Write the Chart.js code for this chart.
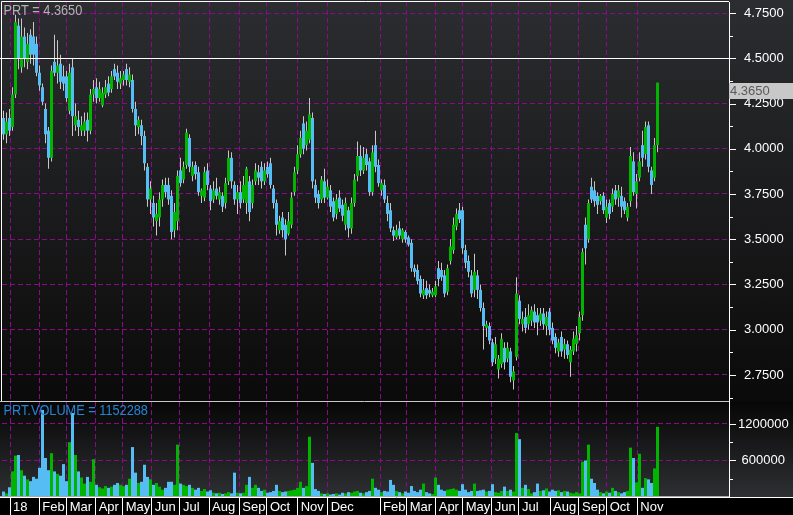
<!DOCTYPE html>
<html><head><meta charset="utf-8">
<script src="https://cdn.jsdelivr.net/npm/chart.js@4/dist/chart.umd.min.js"></script>
<style>
html,body{margin:0;padding:0;background:#000;}
#wrap{position:relative;width:793px;height:515px;overflow:hidden;background:#000;}
#pc{position:absolute;left:0;top:0;background:linear-gradient(to bottom,#2c2d30 0%,#0a0a0a 100%);}
#vc{position:absolute;left:0;top:402px;background:linear-gradient(to bottom,#070707 0px,#2e2f32 95px,#000 95px,#000 113px);}
</style></head><body>
<div id="wrap"><canvas id="pc" width="793" height="402"></canvas><canvas id="vc" width="793" height="113"></canvas></div>
<script>
const symbol = 'PRT';
const opens = [
4.17,4.08,4.17,4.12,4.30,4.68,4.45,4.62,4.48,4.63,
4.62,4.58,4.42,4.34,4.22,4.10,3.95,4.48,4.42,4.47,
4.40,4.40,4.21,4.45,4.13,4.16,4.10,4.10,4.16,4.10,
4.30,4.34,4.28,4.24,4.30,4.36,4.33,4.44,4.42,4.36,
4.38,4.44,4.37,4.38,4.22,4.12,4.13,4.07,3.90,3.72,
3.70,3.60,3.62,3.72,3.80,3.80,3.74,3.55,3.60,3.88,
3.83,3.91,4.06,3.85,3.91,3.87,3.74,3.73,3.88,3.78,
3.72,3.78,3.72,3.74,3.70,3.82,3.95,3.80,3.72,3.76,
3.72,3.70,3.82,3.70,3.82,3.87,3.90,3.82,3.90,3.92,
3.78,3.70,3.55,3.62,3.58,3.53,3.58,3.76,3.88,3.97,
4.14,4.02,4.05,4.17,3.80,3.75,3.72,3.82,3.73,3.77,
3.71,3.64,3.73,3.69,3.58,3.66,3.56,3.70,3.85,3.96,
3.88,3.97,3.93,3.76,4.02,3.91,3.77,3.80,3.70,3.66,
3.55,3.51,3.56,3.50,3.54,3.51,3.48,3.34,3.33,3.28,
3.19,3.23,3.22,3.19,3.19,3.34,3.33,3.30,3.21,3.38,
3.44,3.57,3.66,3.66,3.44,3.38,3.30,3.22,3.30,3.22,
3.12,3.01,3.02,2.93,2.84,2.78,2.81,2.90,2.84,2.88,
2.72,2.85,3.16,3.03,3.07,3.03,3.05,3.10,3.08,3.05,
3.09,3.02,3.10,3.01,2.96,2.88,2.96,2.89,2.92,2.82,
2.88,2.92,2.98,3.08,3.58,3.50,3.79,3.77,3.74,3.71,
3.74,3.62,3.70,3.68,3.77,3.73,3.74,3.71,3.62,3.71,
3.93,3.75,3.84,4.02,3.97,4.13,3.88,3.84,4.02];
const highs = [
4.21,4.20,4.22,4.34,4.74,4.72,4.72,4.67,4.64,4.66,
4.70,4.62,4.46,4.36,4.25,4.12,4.46,4.63,4.60,4.52,
4.46,4.43,4.47,4.50,4.25,4.21,4.18,4.20,4.20,4.33,
4.38,4.39,4.37,4.34,4.38,4.40,4.43,4.47,4.46,4.43,
4.43,4.47,4.45,4.41,4.26,4.18,4.16,4.10,3.92,3.82,
3.74,3.70,3.76,3.83,3.84,3.84,3.77,3.70,3.88,3.95,
3.93,4.11,4.08,3.93,3.93,3.90,3.78,3.90,3.92,3.80,
3.82,3.84,3.79,3.76,3.84,3.99,3.98,3.82,3.80,3.82,
3.85,3.90,3.85,3.83,3.92,3.91,3.93,3.92,3.93,3.95,
3.80,3.72,3.63,3.65,3.61,3.65,3.76,3.90,4.02,4.10,
4.18,4.15,4.28,4.20,3.83,3.77,3.85,3.89,3.83,3.80,
3.73,3.75,3.77,3.72,3.73,3.68,3.73,3.86,4.04,4.02,
4.01,4.00,3.95,4.02,4.10,3.94,3.83,3.83,3.74,3.70,
3.57,3.58,3.60,3.56,3.55,3.52,3.50,3.36,3.36,3.30,
3.28,3.27,3.25,3.23,3.27,3.38,3.37,3.33,3.36,3.50,
3.62,3.67,3.70,3.68,3.47,3.41,3.33,3.42,3.33,3.25,
3.15,3.05,3.04,2.95,2.96,2.86,2.98,2.93,2.93,2.90,
2.80,3.29,3.19,3.10,3.12,3.14,3.13,3.14,3.12,3.12,
3.12,3.10,3.12,3.04,2.98,2.95,2.99,2.95,2.94,2.91,
2.99,3.02,3.10,3.45,3.62,3.72,3.84,3.82,3.76,3.75,
3.76,3.72,3.72,3.78,3.80,3.80,3.79,3.73,3.70,4.01,
3.98,3.86,3.98,4.10,4.15,4.15,3.90,4.06,4.365];
const lows = [
4.05,4.03,4.07,4.10,4.28,4.44,4.42,4.45,4.44,4.47,
4.46,4.40,4.32,4.24,4.03,3.89,3.93,4.40,4.36,4.33,
4.32,4.26,4.19,4.07,4.10,4.07,4.07,4.07,4.04,4.08,
4.26,4.25,4.26,4.23,4.28,4.29,4.31,4.38,4.33,4.33,
4.35,4.35,4.34,4.20,4.07,4.08,4.02,3.88,3.68,3.64,
3.57,3.52,3.57,3.68,3.73,3.69,3.50,3.51,3.55,3.79,
3.81,3.89,3.87,3.82,3.83,3.74,3.70,3.71,3.77,3.66,
3.70,3.72,3.69,3.65,3.67,3.80,3.78,3.69,3.64,3.67,
3.70,3.64,3.60,3.67,3.80,3.80,3.78,3.80,3.84,3.78,
3.67,3.52,3.53,3.51,3.41,3.52,3.56,3.74,3.86,3.95,
3.97,3.99,4.03,3.78,3.70,3.67,3.70,3.70,3.72,3.65,
3.60,3.61,3.65,3.60,3.55,3.51,3.53,3.68,3.82,3.85,
3.86,3.88,3.74,3.74,3.87,3.79,3.74,3.70,3.60,3.54,
3.49,3.50,3.50,3.48,3.48,3.46,3.32,3.29,3.25,3.18,
3.17,3.17,3.18,3.18,3.18,3.24,3.27,3.18,3.19,3.36,
3.42,3.55,3.59,3.42,3.34,3.29,3.18,3.18,3.17,3.10,
2.89,2.96,2.92,2.80,2.81,2.73,2.79,2.78,2.82,2.71,
2.67,2.83,3.03,2.99,2.98,3.00,3.02,3.01,2.97,3.02,
3.00,2.97,2.97,2.92,2.87,2.85,2.85,2.84,2.84,2.74,
2.86,2.88,2.94,3.05,3.36,3.48,3.70,3.68,3.64,3.69,
3.64,3.59,3.61,3.65,3.69,3.68,3.62,3.64,3.60,3.68,
3.74,3.67,3.82,3.90,3.94,3.87,3.75,3.82,3.98];
const closes = [
4.08,4.15,4.10,4.30,4.70,4.50,4.62,4.50,4.58,4.52,
4.52,4.42,4.35,4.26,4.08,3.95,4.43,4.42,4.46,4.37,
4.36,4.28,4.42,4.18,4.18,4.12,4.13,4.15,4.10,4.30,
4.33,4.28,4.33,4.31,4.34,4.31,4.40,4.40,4.37,4.39,
4.41,4.38,4.41,4.22,4.13,4.16,4.07,3.92,3.72,3.78,
3.62,3.64,3.72,3.80,3.76,3.72,3.54,3.65,3.85,3.81,
3.90,4.09,3.90,3.90,3.86,3.76,3.77,3.87,3.80,3.71,
3.77,3.74,3.76,3.68,3.81,3.95,3.82,3.72,3.76,3.70,
3.80,3.89,3.65,3.80,3.88,3.84,3.82,3.88,3.86,3.80,
3.70,3.58,3.60,3.55,3.50,3.60,3.73,3.87,3.97,4.06,
4.00,4.10,4.19,3.82,3.73,3.70,3.83,3.73,3.79,3.68,
3.62,3.72,3.67,3.63,3.70,3.56,3.70,3.83,3.96,3.88,
3.95,3.91,3.76,3.98,3.90,3.81,3.81,3.72,3.64,3.56,
3.52,3.55,3.52,3.55,3.50,3.47,3.34,3.32,3.27,3.20,
3.22,3.19,3.20,3.21,3.24,3.28,3.29,3.20,3.34,3.46,
3.58,3.64,3.61,3.45,3.37,3.32,3.20,3.32,3.22,3.12,
3.02,3.03,2.94,2.82,2.92,2.84,2.95,2.82,2.90,2.74,
2.77,3.20,3.06,3.06,3.01,3.08,3.11,3.04,3.04,3.09,
3.03,3.07,3.00,2.94,2.90,2.93,2.88,2.92,2.86,2.89,
2.95,2.97,3.07,3.43,3.45,3.70,3.72,3.71,3.69,3.74,
3.66,3.68,3.64,3.75,3.72,3.77,3.68,3.66,3.68,3.96,
3.76,3.82,3.93,3.95,4.12,3.90,3.80,4.02,4.365];
const volumes = [
90000,60000,160000,420000,680000,690000,440000,350000,290000,260000,
330000,300000,480000,1430000,640000,440000,720000,420000,380000,350000,
540000,260000,900000,1380000,690000,420000,320000,220000,330000,250000,
620000,200000,160000,140000,180000,150000,170000,200000,230000,200000,
180000,200000,300000,820000,400000,230000,250000,530000,330000,290000,
200000,230000,170000,120000,150000,250000,250000,200000,860000,220000,
200000,180000,200000,150000,120000,150000,100000,130000,90000,110000,
70000,60000,70000,50000,60000,80000,60000,400000,70000,60000,
70000,200000,330000,150000,200000,150000,100000,120000,70000,80000,
100000,200000,100000,80000,90000,100000,110000,120000,150000,250000,
150000,180000,990000,560000,130000,100000,60000,50000,60000,40000,
50000,60000,40000,70000,60000,80000,70000,90000,100000,70000,
60000,80000,100000,300000,150000,120000,80000,100000,90000,280000,
200000,100000,80000,60000,90000,70000,180000,100000,80000,120000,
220000,80000,60000,50000,320000,200000,120000,100000,120000,130000,
140000,120000,100000,210000,120000,80000,100000,220000,100000,110000,
120000,90000,100000,210000,80000,70000,100000,170000,100000,120000,
90000,1050000,950000,150000,200000,130000,60000,80000,220000,100000,
110000,140000,90000,120000,100000,110000,80000,100000,90000,70000,
60000,80000,60000,580000,600000,860000,300000,230000,120000,80000,
60000,90000,70000,150000,100000,80000,60000,80000,100000,810000,
640000,240000,710000,150000,310000,290000,230000,470000,1152288];
// candle index at which each month starts (trading-day positions on the axis)
const monthStartIdx = [2.67,12.43,21.57,31.23,40.23,49.9,59.33,69,79.1,88.33,98.57,108.57,126,134.9,144.57,153.57,163.23,172.33,182.67,192.33,201.57,211.77];
const monthLabels = ['18','Feb','Mar','Apr','May','Jun','Jul','Aug','Sep','Oct','Nov','Dec','Feb','Mar','Apr','May','Jun','Jul','Aug','Sep','Oct','Nov'];
const priceTicks = [2.75,3.0,3.25,3.5,3.75,4.0,4.25,4.5,4.75];
const priceMinorTicks = [2.625,2.875,3.125,3.375,3.625,3.875,4.125,4.375,4.625];
const priceRefLine = 4.5;
const volumeTicks = [600000,1200000];
const volumeMinorTicks = [300000,900000];

const FONT = "'Liberation Sans', Arial, Helvetica, sans-serif";
const GRID = '#8a0a8a';
const UP = '#00b400', DN = '#55bdf4', WICK = '#c8c8c8';
const X_MIN = 0, X_MAX = 242.33;
const xs = closes.map((_, i) => i + 0.5);
const barColors = closes.map((c, i) => c >= opens[i] ? UP : DN);
const N = closes.length;

function setMonthTicks(s){ s.ticks = monthStartIdx.map(v => ({value: v})); }
function fixWidth(s){ s.width = 64; s.paddingTop = 0; s.paddingBottom = 0; }

function drawTitle(ctx, text, color, x, y){
  ctx.save();
  ctx.font = '15px ' + FONT;
  ctx.fillStyle = color;
  ctx.textBaseline = 'alphabetic';
  ctx.textAlign = 'left';
  ctx.translate(x, y);
  ctx.scale(0.85, 1);
  ctx.fillText(text, 0, 0);
  ctx.restore();
}
function drawTickMarks(ctx, scale, majors, right){
  ctx.save();
  ctx.strokeStyle = '#ffffff'; ctx.lineWidth = 1;
  scale.ticks.forEach(t => {
    const py = Math.round(scale.getPixelForValue(t.value)) + 0.5;
    const len = majors.includes(t.value) ? 7 : 4;
    ctx.beginPath(); ctx.moveTo(right, py); ctx.lineTo(right + len, py); ctx.stroke();
  });
  ctx.restore();
}

const pricePanel = {
  id: 'pricePanel',
  afterDraw(chart){
    const {ctx, chartArea: a} = chart;
    const y = chart.scales.y;
    ctx.save();
    ctx.lineWidth = 1;
    ctx.strokeStyle = '#ffffff';
    ctx.beginPath();
    ctx.moveTo(a.left - 0.5, a.bottom); ctx.lineTo(a.left - 0.5, a.top - 0.5); ctx.lineTo(a.right, a.top - 0.5);
    ctx.stroke();
    const ry = Math.round(y.getPixelForValue(priceRefLine)) + 0.5;
    ctx.beginPath(); ctx.moveTo(0, ry); ctx.lineTo(a.right + 7, ry); ctx.stroke();
    ctx.strokeStyle = '#c8c8c8';
    ctx.beginPath(); ctx.moveTo(0, a.bottom + 0.5); ctx.lineTo(a.right, a.bottom + 0.5); ctx.stroke();
    ctx.restore();
    drawTickMarks(ctx, y, priceTicks, a.right);
    const last = closes[N - 1];
    drawTitle(ctx, symbol + ' = ' + last.toFixed(4), '#b2b2b2', 3.5, 15);
    const ty = Math.round(y.getPixelForValue(last));
    ctx.save();
    ctx.fillStyle = '#c8c8c8';
    ctx.fillRect(a.right, ty, chart.width - a.right, 16);
    ctx.fillStyle = '#5a5a5a';
    ctx.font = '13px ' + FONT;
    ctx.textBaseline = 'middle'; ctx.textAlign = 'left';
    ctx.fillText(last.toFixed(4), a.right + 1, ty + 8.5);
    ctx.restore();
  }
};

new Chart(document.getElementById('pc'), {
  type: 'bar',
  data: { datasets: [
    { label: 'body', data: xs.map((x, i) => ({x, y: [opens[i], closes[i]]})), backgroundColor: barColors,
      barThickness: 3, maxBarThickness: 3, minBarLength: 1, grouped: false, inflateAmount: 0, order: 0 },
    { label: 'wick', data: xs.map((x, i) => ({x, y: [lows[i], highs[i]]})), backgroundColor: WICK,
      barThickness: 1, maxBarThickness: 1, grouped: false, inflateAmount: 0, order: 1 }
  ]},
  options: {
    responsive: false, animation: false, devicePixelRatio: 1,
    layout: { padding: { left: 2, top: 2, right: 0, bottom: 1 } },
    plugins: { legend: { display: false }, tooltip: { enabled: false } },
    scales: {
      x: { type: 'linear', min: X_MIN, max: X_MAX, offset: false,
        afterBuildTicks: setMonthTicks,
        afterFit: s => { s.height = 0; s.paddingLeft = 0; s.paddingRight = 0; },
        ticks: { display: false },
        grid: { offset: false, color: GRID, drawTicks: false, lineWidth: 1 },
        border: { display: false, dash: [5, 3] } },
      y: { position: 'right', min: 2.606, max: 4.811,
        afterBuildTicks: s => { s.ticks = priceTicks.concat(priceMinorTicks).sort((p, q) => p - q).map(v => ({value: v})); },
        afterFit: fixWidth,
        ticks: { color: '#ffffff', font: { family: FONT, size: 13 }, crossAlign: 'center', padding: 8, autoSkip: false,
          callback: v => priceTicks.includes(v) ? v.toFixed(4) : '' },
        grid: { color: c => (c.tick && priceTicks.includes(c.tick.value) && c.tick.value !== priceRefLine) ? GRID : 'rgba(0,0,0,0)',
          tickColor: 'rgba(0,0,0,0)', tickLength: 7, lineWidth: 1 },
        border: { display: true, color: '#ffffff', width: 1, dash: [5, 3] } }
    }
  },
  plugins: [pricePanel]
});

const volumePanel = {
  id: 'volumePanel',
  afterDraw(chart){
    const {ctx, chartArea: a} = chart;
    ctx.save();
    ctx.lineWidth = 1;
    ctx.strokeStyle = '#a8a8a8';
    ctx.beginPath(); ctx.moveTo(0, a.bottom - 0.5); ctx.lineTo(a.right, a.bottom - 0.5); ctx.stroke();
    ctx.strokeStyle = '#ffffff';
    ctx.beginPath(); ctx.moveTo(0, a.bottom + 0.5); ctx.lineTo(chart.width, a.bottom + 0.5); ctx.stroke();
    ctx.restore();
    drawTickMarks(ctx, chart.scales.y, volumeTicks, a.right);
    drawTitle(ctx, symbol + '.VOLUME = ' + volumes[N - 1], '#2385d6', 3.5, 12.5);
  }
};

new Chart(document.getElementById('vc'), {
  type: 'bar',
  data: { datasets: [
    { label: 'volume', data: xs.map((x, i) => ({x, y: volumes[i]})), backgroundColor: barColors,
      barThickness: 3, maxBarThickness: 3, grouped: false, inflateAmount: 0 }
  ]},
  options: {
    responsive: false, animation: false, devicePixelRatio: 1,
    layout: { padding: { left: 2, top: 0, right: 0, bottom: 0 } },
    plugins: { legend: { display: false }, tooltip: { enabled: false } },
    scales: {
      x: { type: 'linear', min: X_MIN, max: X_MAX, offset: false,
        afterBuildTicks: setMonthTicks,
        afterFit: s => { s.height = 18; s.paddingLeft = 0; s.paddingRight = 0; },
        ticks: { color: '#ffffff', font: { family: FONT, size: 13 }, align: 'start', labelOffset: 3, padding: -15,
          autoSkip: false, maxRotation: 0, minRotation: 0, callback: (v, i) => monthLabels[i] },
        grid: { offset: false, color: GRID, tickColor: '#ffffff', tickLength: 18, tickBorderDash: [], lineWidth: 1 },
        border: { display: false, dash: [5, 3] } },
      y: { position: 'right', min: 0, max: 1560000,
        afterBuildTicks: s => { s.ticks = volumeTicks.concat(volumeMinorTicks).sort((p, q) => p - q).map(v => ({value: v})); },
        afterFit: fixWidth,
        ticks: { color: '#ffffff', font: { family: FONT, size: 13 }, crossAlign: 'center', padding: 2, autoSkip: false,
          callback: v => volumeTicks.includes(v) ? String(v) : '' },
        grid: { color: c => (c.tick && volumeTicks.includes(c.tick.value)) ? GRID : 'rgba(0,0,0,0)',
          tickColor: 'rgba(0,0,0,0)', tickLength: 7, lineWidth: 1 },
        border: { display: true, color: '#ffffff', width: 1, dash: [5, 3] } }
    }
  },
  plugins: [volumePanel]
});
</script>
</body></html>
